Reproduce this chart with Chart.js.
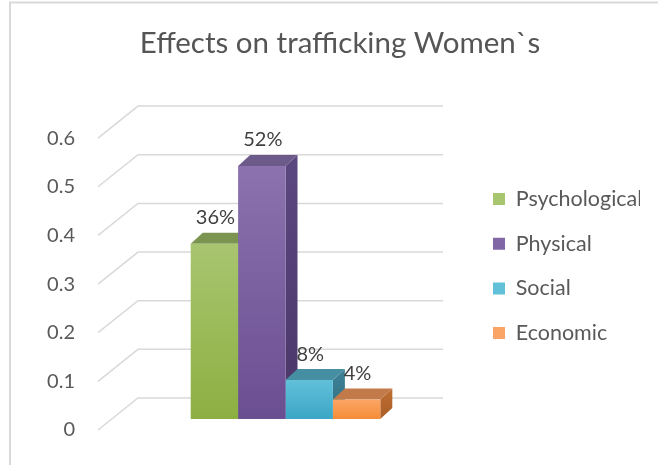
<!DOCTYPE html>
<html>
<head>
<meta charset="utf-8">
<script src="https://cdn.jsdelivr.net/npm/chart.js@4.4.0/dist/chart.umd.min.js"></script>
<style>
html,body{margin:0;padding:0;background:#fff;}
#wrap{width:658px;height:465px;position:relative;}
</style>
</head>
<body>
<div id="wrap"><canvas id="c" width="658" height="465"></canvas></div>
<script>
// ---- data ----
const categories = ['Effects on trafficking Women`s'];
const seriesNames = ['Psychological', 'Physical', 'Social', 'Economic'];
const psychological = [0.36];
const physical = [0.52];
const social = [0.08];
const economic = [0.04];
const dataLabels = ['36%', '52%', '8%', '4%'];
const tickValues = [0, 0.1, 0.2, 0.3, 0.4, 0.5, 0.6];
const titleText = 'Effects on trafficking Women`s';

// ---- styles ----
const FONT = 'Lato';
const solid = ['#9BBB59', '#8064A2', '#4BACC6', '#F79646'];
const frontTop = ['#A8C56F', '#8C72AE', '#62C0D9', '#FAA565'];
const frontBottom = ['#8DAF42', '#6A4E92', '#3BA6C6', '#F68C38'];
const topFace = ['#7B9450', '#6C5A8A', '#468FA2', '#C27A4A'];
const sideTop = ['#6E8A3E', '#5C4880', '#3E8196', '#BF6E32'];
const sideBottom = ['#5E7A30', '#4A3668', '#2F6E82', '#A85E26'];
const DX = 12, DY = 11;
const WALL_DX = 40, WALL_DY = 32;
const Y_MAX = 0.674;
const BAR_SHIFT = 0.0226;

function frontFill(i) {
  return (ctx) => {
    if (ctx.type !== 'data') return solid[i];
    const ch = ctx.chart;
    const s = ch.scales.yBar;
    if (!s || !ch.chartArea) return solid[i];
    const yTop = s.getPixelForValue(ctx.raw);
    const yBot = s.getPixelForValue(0);
    const g = ch.ctx.createLinearGradient(0, yTop, 0, yBot);
    g.addColorStop(0, frontTop[i]);
    g.addColorStop(1, frontBottom[i]);
    return g;
  };
}

const seriesValues = [psychological, physical, social, economic];
const datasets = seriesNames.map((name, i) => ({
  label: name,
  data: seriesValues[i],
  yAxisID: 'yBar',
  backgroundColor: frontFill(i),
  borderWidth: 0
}));

const threeD = {
  id: 'threeD',
  beforeDraw(chart) {
    const c = chart.ctx;
    c.save();
    c.fillStyle = '#fff';
    c.fillRect(0, 0, chart.width, chart.height);
    c.strokeStyle = '#D9D9D9';
    c.lineWidth = 2;
    c.beginPath();
    c.moveTo(9, 2.5); c.lineTo(chart.width, 2.5);
    c.moveTo(10, 2.5); c.lineTo(10, chart.height);
    c.stroke();
    c.restore();
  },
  beforeDatasetsDraw(chart) {
    const c = chart.ctx, y = chart.scales.y, ca = chart.chartArea;
    const x0 = ca.left - 3.2;
    const xEnd = x0 + 345;
    c.save();
    c.strokeStyle = '#D9D9D9';
    c.lineWidth = 1.5;
    tickValues.forEach(v => {
      const py = y.getPixelForValue(v);
      c.beginPath();
      c.moveTo(x0, py);
      c.lineTo(x0 + WALL_DX, py - WALL_DY);
      c.lineTo(xEnd, py - WALL_DY);
      c.stroke();
    });
    // 3D faces, left to right; fronts are drawn by Chart.js afterwards
    chart.data.datasets.forEach((ds, i) => {
      chart.getDatasetMeta(i).data.forEach(el => {
        const {x, y: top, base, width} = el.getProps(['x', 'y', 'base', 'width'], true);
        const l = x - width / 2, r = x + width / 2;
        const g = c.createLinearGradient(0, top - DY, 0, base);
        g.addColorStop(0, sideTop[i]);
        g.addColorStop(1, sideBottom[i]);
        c.fillStyle = g;
        c.beginPath();
        c.moveTo(r, top); c.lineTo(r + DX, top - DY); c.lineTo(r + DX, base - DY); c.lineTo(r, base);
        c.closePath(); c.fill();
        c.fillStyle = topFace[i];
        c.beginPath();
        c.moveTo(l, top); c.lineTo(l + DX, top - DY); c.lineTo(r + DX, top - DY); c.lineTo(r, top);
        c.closePath(); c.fill();
      });
    });
    c.restore();
  },
  afterDatasetsDraw(chart) {
    const c = chart.ctx;
    c.save();
    c.font = '20px ' + FONT;
    c.fillStyle = '#404040';
    c.textAlign = 'center';
    c.textBaseline = 'middle';
    chart.data.datasets.forEach((ds, i) => {
      chart.getDatasetMeta(i).data.forEach(el => {
        const {x, y} = el.getProps(['x', 'y'], true);
        c.fillText(dataLabels[i], x + 1, y - DY - 15);
      });
    });
    c.restore();
  }
};

new Chart(document.getElementById('c'), {
  type: 'bar',
  data: { labels: categories, datasets },
  plugins: [threeD],
  options: {
    responsive: false,
    animation: false,
    events: [],
    categoryPercentage: 0.5143,
    barPercentage: 1,
    layout: { padding: { left: 40, right: 18, top: 0, bottom: 35 } },
    plugins: {
      title: {
        display: true, text: titleText, color: '#555555',
        font: { family: FONT, size: 29.5, weight: 'normal' },
        padding: { top: 25.3, bottom: 41.4 }
      },
      legend: {
        position: 'right', fullSize: false, align: 'center', maxWidth: 170.2,
        labels: {
          boxWidth: 12, boxHeight: 12, padding: 23.2, color: '#595959',
          font: { family: FONT, size: 21.5 }
        }
      },
      tooltip: { enabled: false }
    },
    scales: {
      x: { display: false },
      y: {
        position: 'left', min: 0, max: Y_MAX,
        afterBuildTicks: s => { s.ticks = tickValues.map(v => ({ value: v })); },
        afterFit: s => { s.width = 61.2; },
        grid: { display: false, drawTicks: true, tickLength: 26.2 }, border: { display: false },
        ticks: { padding: 0, color: '#595959', font: { family: FONT, size: 20 },
          callback: v => String(Math.round(v * 10) / 10) }
      },
      yBar: { display: false, position: 'left', min: -BAR_SHIFT, max: Y_MAX - BAR_SHIFT }
    }
  }
});
</script>
</body>
</html>
